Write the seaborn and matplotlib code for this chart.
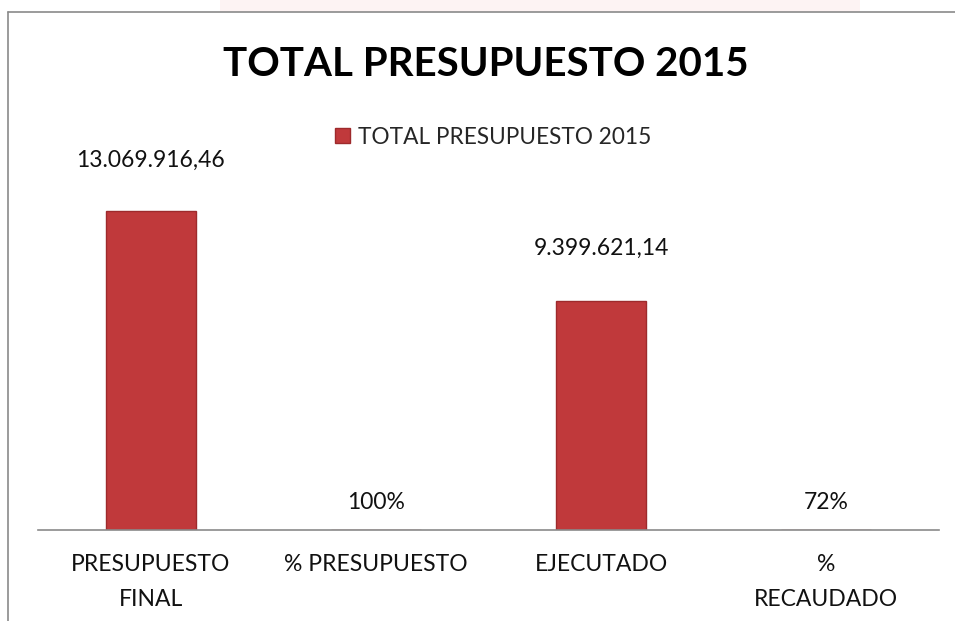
import matplotlib
matplotlib.use("Agg")
import matplotlib.pyplot as plt
import seaborn as sns
import pandas as pd
from matplotlib.lines import Line2D
from matplotlib.patches import Rectangle

categories = ["PRESUPUESTO\nFINAL", "% PRESUPUESTO", "EJECUTADO", "%\nRECAUDADO"]
values = [13069916.46, 1.0, 9399621.14, 0.72]
value_labels = ["13.069.916,46", "100%", "9.399.621,14", "72%"]
series_name = "TOTAL PRESUPUESTO 2015"
title = "TOTAL PRESUPUESTO 2015"

sns.set_theme(style="white")
plt.rcParams['font.family'] = ['Lato', 'DejaVu Sans']

df = pd.DataFrame({"cat": categories, "val": values})

W, H = 955, 621
fig = plt.figure(figsize=(W / 100, H / 100), dpi=100)
fig.patch.set_facecolor("white")

# faint pink band at top
fig.add_artist(Rectangle((220 / W, 1 - 12 / H), 640 / W, 12 / H, transform=fig.transFigure,
                         facecolor="#FDF3F3", edgecolor="none", zorder=0))
# frame lines (left and top)
fig.add_artist(Line2D([8 / W, 8 / W], [0, 1 - 12 / H], transform=fig.transFigure, color="#8a8a8a", lw=1.2))
fig.add_artist(Line2D([8 / W, 1], [1 - 12 / H, 1 - 12 / H], transform=fig.transFigure, color="#8a8a8a", lw=1.2))

ax = fig.add_axes([38 / W, (H - 530) / H, (939 - 38) / W, (530 - 170) / H])
sns.barplot(data=df, x="cat", y="val", color="#C0393B", width=0.4, ax=ax,
            label=series_name, edgecolor="#9E2A2C", linewidth=1.0, saturation=1)
ax.set_xlim(-0.5, 3.5)
ax.set_ylim(0, 14.75e6)
ax.set_xlabel("")
ax.set_ylabel("")
ax.set_yticks([])
for s in ["top", "right", "left"]:
    ax.spines[s].set_visible(False)
ax.spines["bottom"].set_color("#8a8a8a")
ax.spines["bottom"].set_linewidth(1.2)
ax.set_facecolor("none")
ax.tick_params(axis="x", length=0, pad=17, labelsize=16.5)
for lab in ax.get_xticklabels():
    lab.set_linespacing(1.82)
    lab.set_color("#111111")

# label offsets in pixels above bar top (label centre)
offsets_px = [51, 27, 52, 27]
for i, (v, t, o) in enumerate(zip(values, value_labels, offsets_px)):
    ax.annotate(t, (i, v), xytext=(0, o * 0.72), textcoords="offset points",
                ha="center", va="center", fontsize=16.5, color="#111111")

fig.text(486 / W, 1 - 64 / H, title, ha="center", va="center", fontsize=29,
         fontweight="bold", color="black")
ax.legend(loc="center", bbox_to_anchor=(493 / W, 1 - 137 / H), bbox_transform=fig.transFigure,
          frameon=False, fontsize=16.3, handlelength=0.65, handleheight=0.65, handletextpad=0.35)

fig.savefig("out.png", dpi=100)
